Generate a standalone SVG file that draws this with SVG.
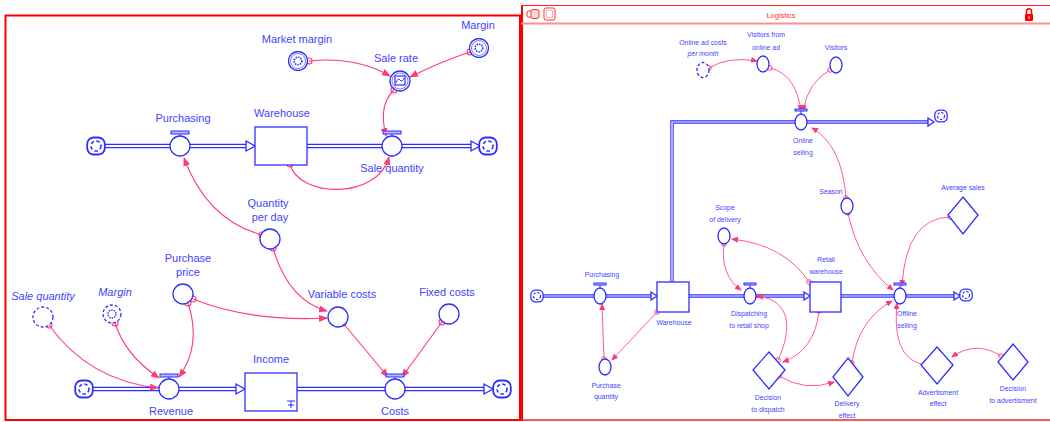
<svg xmlns="http://www.w3.org/2000/svg" width="1050" height="422" viewBox="0 0 1050 422">
<style>
.t{font-family:"Liberation Sans",Arial,sans-serif;font-size:11px;fill:#4343ff;text-anchor:middle}
.s{font-family:"Liberation Sans",Arial,sans-serif;font-size:6.9px;fill:#4343ff;text-anchor:middle}
.i{font-style:italic}
.n{fill:#fff;stroke:#2e2eff;stroke-width:1.3}
.d{stroke-dasharray:3 2}
.pipe{fill:none;stroke:#2e2eff;stroke-width:4.5}
.pin{fill:none;stroke:#fff;stroke-width:1.8}
.pipe2{fill:none;stroke:#2e2eff;stroke-width:3.4}
.pin2{fill:none;stroke:#fff;stroke-width:1.2}
.ah{fill:#fff;stroke:#2e2eff;stroke-width:1.3}
.lk{fill:none;stroke:#ff3a7a;stroke-width:1.1;marker-end:url(#a)}
.lk2{fill:none;stroke:#ff4a8a;stroke-width:0.9;marker-end:url(#b)}
.o{fill:none;stroke:#ff3a7a;stroke-width:1.1}
.o2{fill:none;stroke:#ff3a7a;stroke-width:0.9}
.bar{fill:#b8b8ff;stroke:#2e2eff;stroke-width:1}
.ic{fill:none;stroke:#2e2eff;stroke-width:1}
.rd{fill:#fff;stroke:#ff3030;stroke-width:1}
</style>
<defs>
<marker id="a" markerUnits="userSpaceOnUse" markerWidth="9" markerHeight="7" refX="8" refY="3.5" orient="auto"><path d="M0,0 L9,3.5 L0,7 z" fill="#ff3a7a"/></marker>
<marker id="b" markerUnits="userSpaceOnUse" markerWidth="7" markerHeight="6" refX="6" refY="3" orient="auto"><path d="M0,0 L7,3 L0,6 z" fill="#ff3a7a"/></marker>
<symbol id="cl" viewBox="-10 -10 20 20"><rect x="-8.8" y="-8.5" width="17.6" height="17" rx="6.5" fill="#fff" stroke="#2e2eff" stroke-width="1.8"/><circle r="5" fill="none" stroke="#2e2eff" stroke-width="1.6" stroke-dasharray="3.5 2.3"/></symbol>
<symbol id="gear" viewBox="-10 -10 20 20"><circle r="9.5" fill="#fff" stroke="#2e2eff" stroke-width="1.3"/><circle r="7.5" fill="none" stroke="#2e2eff" stroke-width="0.6"/><circle r="3.8" fill="none" stroke="#2e2eff" stroke-width="1.6" stroke-dasharray="1.5 1"/></symbol>
</defs>
<rect width="1050" height="422" fill="#fff"/>

<!-- panel frames -->
<g id="frames">
<rect x="5.5" y="15.5" width="514.5" height="404.5" fill="none" stroke="#ff0000" stroke-width="2"/>
<line x1="522" y1="5" x2="522" y2="421" stroke="#ff0000" stroke-width="2"/>
<line x1="521" y1="5.5" x2="1050" y2="5.5" stroke="#ff2020" stroke-width="1"/>
<line x1="521" y1="23.5" x2="1050" y2="23.5" stroke="#ff9090" stroke-width="2"/>
<line x1="521" y1="420" x2="1050" y2="420" stroke="#ff2020" stroke-width="1.5"/>
<rect x="527" y="11" width="6" height="6" rx="1" class="rd"/>
<rect x="531" y="9.5" width="8" height="9" rx="2" fill="#ffd8d8" stroke="#ff3030" stroke-width="1"/>
<rect x="544" y="8" width="11" height="12" rx="2" class="rd"/>
<rect x="546.5" y="10.5" width="6" height="7" fill="none" stroke="#ff3030" stroke-width="0.8" stroke-dasharray="1 1"/>
<text x="781" y="18" font-family="Liberation Sans, Arial, sans-serif" font-size="7.5" fill="#ff3030" text-anchor="middle">Logistics</text>
<path d="M1026.5,14 v-2.5 a2.5,2.8 0 0 1 5,0 v2.5" fill="none" stroke="#ff0000" stroke-width="1.6"/>
<rect x="1025" y="14" width="8" height="7" rx="1" fill="#ff0000"/>
<rect x="1028.5" y="16" width="1" height="3" fill="#fff"/>
</g>

<!-- flow pipes -->
<g id="flows">
<path class="pipe" d="M104,146 H246"/><path class="pin" d="M104,146 H246"/>
<polygon class="ah" points="246,141 255,146 246,151"/>
<path class="pipe" d="M307,146 H471"/><path class="pin" d="M307,146 H471"/>
<polygon class="ah" points="471,141 480,146 471,151"/>
<path class="pipe" d="M92,389 H236"/><path class="pin" d="M92,389 H236"/>
<polygon class="ah" points="236,384 245,389 236,394"/>
<path class="pipe" d="M297,389 H484"/><path class="pin" d="M297,389 H484"/>
<polygon class="ah" points="484,384 493,389 484,394"/>

<path class="pipe2" d="M542,296 H651"/><path class="pin2" d="M542,296 H651"/>
<polygon class="ah" points="651,292 657,296 651,300"/>
<path class="pipe2" d="M689,296 H804"/><path class="pin2" d="M689,296 H804"/>
<polygon class="ah" points="804,292 810,296 804,300"/>
<path class="pipe2" d="M841,296 H954"/><path class="pin2" d="M841,296 H954"/>
<polygon class="ah" points="954,292 960,296 954,300"/>
<path class="pipe2" d="M672,282 V122 H928" stroke-linejoin="miter"/><path class="pin2" d="M672,282 V122 H928"/>
<polygon class="ah" points="928,118 934,122 928,126"/>
</g>

<!-- connectors -->
<g id="links">
<path class="lk" d="M309,61 Q355,56 390,76"/><circle class="o" cx="309" cy="61" r="3"/>
<path class="lk" d="M470,52 Q440,62 410,77"/><circle class="o" cx="470" cy="52" r="3"/>
<path class="lk" d="M394,90 Q378,105 386,136"/><circle class="o" cx="394" cy="90" r="3"/>
<path class="lk" d="M290,164 C298,198 378,200 389,157"/><circle class="o" cx="290" cy="164" r="3"/>
<path class="lk" d="M262,235 Q207,220 184,158"/><circle class="o" cx="262" cy="235" r="3"/>
<path class="lk" d="M273,248 Q288,300 327,311"/><circle class="o" cx="273" cy="248" r="3"/>
<path class="lk" d="M193,299 Q250,322 327,318"/><circle class="o" cx="193" cy="299" r="3"/>
<path class="lk" d="M188,303 Q202,345 179,377"/><circle class="o" cx="188" cy="303" r="3"/>
<path class="lk" d="M49,325 Q88,380 158,388"/><circle class="o" cx="49" cy="325" r="3"/>
<path class="lk" d="M115,323 Q125,355 159,378"/><circle class="o" cx="115" cy="323" r="3"/>
<path class="lk" d="M343,323 L388,377"/><circle class="o" cx="343" cy="323" r="3"/>
<path class="lk" d="M442,322 L402,377"/><circle class="o" cx="442" cy="322" r="3"/>

<path class="lk2" d="M709,68 Q728,56 757,61"/><circle class="o2" cx="709" cy="68" r="2.3"/>
<path class="lk2" d="M770,68 Q796,74 801,111"/><circle class="o2" cx="770" cy="68" r="2.3"/>
<path class="lk2" d="M830,70 Q808,82 803,111"/><circle class="o2" cx="830" cy="70" r="2.3"/>
<path class="lk2" d="M846,198 Q842,145 812,128"/><circle class="o2" cx="846" cy="198" r="2.3"/>
<path class="lk2" d="M848,213 Q858,262 893,290"/><circle class="o2" cx="848" cy="213" r="2.3"/>
<path class="lk2" d="M950,217 Q906,218 902,286"/><circle class="o2" cx="950" cy="217" r="2.3"/>
<path class="lk2" d="M809,282 Q785,245 732,239"/><circle class="o2" cx="809" cy="282" r="2.3"/>
<path class="lk2" d="M724,244 Q720,275 741,290"/><circle class="o2" cx="724" cy="244" r="2.3"/>
<path class="lk2" d="M604,359 L602,304"/><circle class="o2" cx="604" cy="359" r="2.3"/>
<path class="lk2" d="M657,312 L612,360"/><circle class="o2" cx="657" cy="312" r="2.3"/>
<path class="lk2" d="M778,360 C792,330 792,300 757,296"/><circle class="o2" cx="778" cy="360" r="2.3"/>
<path class="lk2" d="M819,311 Q815,350 783,362"/><circle class="o2" cx="819" cy="311" r="2.3"/>
<path class="lk2" d="M779,376 Q805,392 834,382"/><circle class="o2" cx="779" cy="376" r="2.3"/>
<path class="lk2" d="M852,363 Q858,320 892,301"/><circle class="o2" cx="852" cy="363" r="2.3"/>
<path class="lk2" d="M926,365 C905,362 893,345 897,303"/><circle class="o2" cx="926" cy="365" r="2.3"/>
<path class="lk2" d="M1001,356 Q976,340 952,357"/><circle class="o2" cx="1001" cy="356" r="2.3"/>
</g>

<!-- left panel nodes -->
<g id="cloud-l1"><use href="#cl" x="86" y="136" width="20" height="20"/></g>
<g id="cloud-l2"><use href="#cl" x="478" y="136" width="20" height="20"/></g>
<g id="cloud-l3"><use href="#cl" x="74" y="379" width="20" height="20"/></g>
<g id="cloud-l4"><use href="#cl" x="492" y="379" width="20" height="20"/></g>

<g id="purchasing"><rect class="bar" x="171" y="131" width="18" height="3"/><line class="ic" x1="180" y1="134" x2="180" y2="136"/><circle class="n" cx="180" cy="146" r="10"/><text class="t" x="183" y="122">Purchasing</text></g>
<g id="warehouse"><rect class="n" x="255" y="127" width="52" height="38"/><text class="t" x="282" y="117">Warehouse</text></g>
<g id="sale-quantity"><rect class="bar" x="383" y="131" width="18" height="3"/><line class="ic" x1="392" y1="134" x2="392" y2="136"/><circle class="n" cx="392" cy="146" r="10"/><text class="t" x="392" y="172">Sale quantity</text></g>
<g id="sale-rate"><circle class="n" cx="400" cy="81" r="10"/><circle cx="400" cy="81" r="8" fill="none" stroke="#2e2eff" stroke-width="0.6"/><rect x="395" y="76" width="10" height="9" fill="none" stroke="#2e2eff" stroke-width="1.2"/><path d="M396,83 Q398,77 400,80 T404,78" fill="none" stroke="#2e2eff" stroke-width="0.9"/><text class="t" x="396" y="62">Sale rate</text></g>
<g id="market-margin"><use href="#gear" x="288" y="51" width="20" height="20"/><text class="t" x="297" y="43">Market margin</text></g>
<g id="margin"><use href="#gear" x="469" y="38" width="20" height="20"/><text class="t" x="478" y="29">Margin</text></g>
<g id="quantity-per-day"><circle class="n" cx="270" cy="239" r="10"/><text class="t" x="268" y="207">Quantity</text><text class="t" x="270" y="221">per day</text></g>
<g id="purchase-price"><circle class="n" cx="183" cy="294" r="10"/><text class="t" x="188" y="262">Purchase</text><text class="t" x="188" y="276">price</text></g>
<g id="variable-costs"><circle class="n" cx="338" cy="317" r="10"/><text class="t" x="342" y="298">Variable costs</text></g>
<g id="fixed-costs"><circle class="n" cx="449" cy="314" r="10"/><text class="t" x="447" y="296">Fixed costs</text></g>
<g id="sale-quantity-ghost"><circle class="n d" cx="43" cy="317" r="10"/><text class="t i" x="43" y="300">Sale quantity</text></g>
<g id="margin-ghost"><circle class="n d" cx="112" cy="314" r="9"/><circle cx="112" cy="314" r="4" fill="none" stroke="#2e2eff" stroke-width="1.3" stroke-dasharray="1.5 1"/><text class="t i" x="115" y="296">Margin</text></g>
<g id="revenue"><rect class="bar" x="160" y="374" width="18" height="3"/><line class="ic" x1="169" y1="377" x2="169" y2="379"/><circle class="n" cx="169" cy="389" r="10"/><text class="t" x="171" y="415">Revenue</text></g>
<g id="income"><rect class="n" x="245" y="373" width="52" height="38"/><path d="M287,401 H295 M291,401 V408 M288,405 H294" fill="none" stroke="#2e2eff" stroke-width="1"/><text class="t" x="271" y="363">Income</text></g>
<g id="costs"><rect class="bar" x="386" y="374" width="18" height="3"/><line class="ic" x1="395" y1="377" x2="395" y2="379"/><circle class="n" cx="395" cy="389" r="10"/><text class="t" x="395" y="415">Costs</text></g>

<!-- right panel nodes -->
<g id="cloud-r1"><use href="#cl" x="530" y="289" width="14" height="14"/></g>
<g id="cloud-r2"><use href="#cl" x="959" y="288" width="14" height="14"/></g>
<g id="cloud-r3"><use href="#cl" x="934" y="109" width="14" height="14"/></g>

<g id="online-ad-costs"><ellipse class="n d" cx="703" cy="70" rx="6" ry="7.5"/><text class="s" x="703" y="44.5">Online ad costs</text><text class="s i" x="703" y="55.5">per month</text></g>
<g id="visitors-from-online-ad"><ellipse class="n" cx="763" cy="64" rx="6" ry="8"/><text class="s" x="766" y="36.5">Visitors from</text><text class="s" x="766" y="49.5">online ad</text></g>
<g id="visitors"><ellipse class="n" cx="836" cy="65" rx="6" ry="8"/><text class="s" x="836" y="49.5">Visitors</text></g>
<g id="online-selling"><rect class="bar" x="795" y="109" width="12" height="2"/><line class="ic" x1="801" y1="111" x2="801" y2="114"/><ellipse class="n" cx="801" cy="122" rx="6" ry="8"/><text class="s" x="803" y="142.5">Online</text><text class="s" x="803" y="154.5">selling</text></g>
<g id="season"><ellipse class="n" cx="847" cy="206" rx="6" ry="8"/><text class="s" x="831" y="193.5">Season</text></g>
<g id="average-sales"><polygon class="n" points="963,197 978,215 963,234 948,215"/><text class="s" x="963" y="189.5">Average sales</text></g>
<g id="scope-of-delivery"><ellipse class="n" cx="724" cy="236" rx="6" ry="8"/><text class="s" x="725" y="209.5">Scope</text><text class="s" x="725" y="221.5">of delivery</text></g>
<g id="retail-warehouse"><rect class="n" x="810" y="282" width="31" height="30"/><text class="s" x="826" y="261.5">Retail</text><text class="s" x="826" y="273.5">warehouse</text></g>
<g id="purchasing-r"><rect class="bar" x="594" y="283" width="12" height="2"/><line class="ic" x1="600" y1="285" x2="600" y2="288"/><ellipse class="n" cx="600" cy="296" rx="6" ry="8"/><text class="s" x="602" y="276.5">Purchasing</text></g>
<g id="warehouse-r"><rect class="n" x="657" y="282" width="32" height="30"/><text class="s" x="674" y="324.5">Warehouse</text></g>
<g id="dispatching"><rect class="bar" x="744" y="283" width="12" height="2"/><line class="ic" x1="750" y1="285" x2="750" y2="288"/><ellipse class="n" cx="750" cy="296" rx="6" ry="8"/><text class="s" x="749" y="315.5">Dispatching</text><text class="s" x="749" y="327.5">to retail shop</text></g>
<g id="offline-selling"><rect class="bar" x="894" y="283" width="12" height="2"/><line class="ic" x1="900" y1="285" x2="900" y2="288"/><ellipse class="n" cx="900" cy="296" rx="6" ry="8"/><text class="s" x="907" y="315.5">Offline</text><text class="s" x="907" y="327.5">selling</text></g>
<g id="purchase-quantity"><ellipse class="n" cx="605" cy="367" rx="6" ry="8"/><text class="s" x="606" y="387.5">Purchase</text><text class="s" x="606" y="398.5">quantity</text></g>
<g id="decision-to-dispatch"><polygon class="n" points="769,352 785,370 769,389 753,370"/><text class="s" x="768" y="399.5">Decision</text><text class="s" x="768" y="411.5">to dispatch</text></g>
<g id="delivery-effect"><polygon class="n" points="848,358 863,377 848,396 833,377"/><text class="s" x="847" y="405.5">Delivery</text><text class="s" x="847" y="417.5">effect</text></g>
<g id="advertisment-effect"><polygon class="n" points="937,347 953,365 937,384 921,365"/><text class="s" x="938" y="394.5">Advertisment</text><text class="s" x="938" y="405.5">effect</text></g>
<g id="decision-to-advertisment"><polygon class="n" points="1013,344 1028,362 1013,380 998,362"/><text class="s" x="1013" y="390.5">Decision</text><text class="s" x="1013" y="402.5">to advertisment</text></g>
</svg>
